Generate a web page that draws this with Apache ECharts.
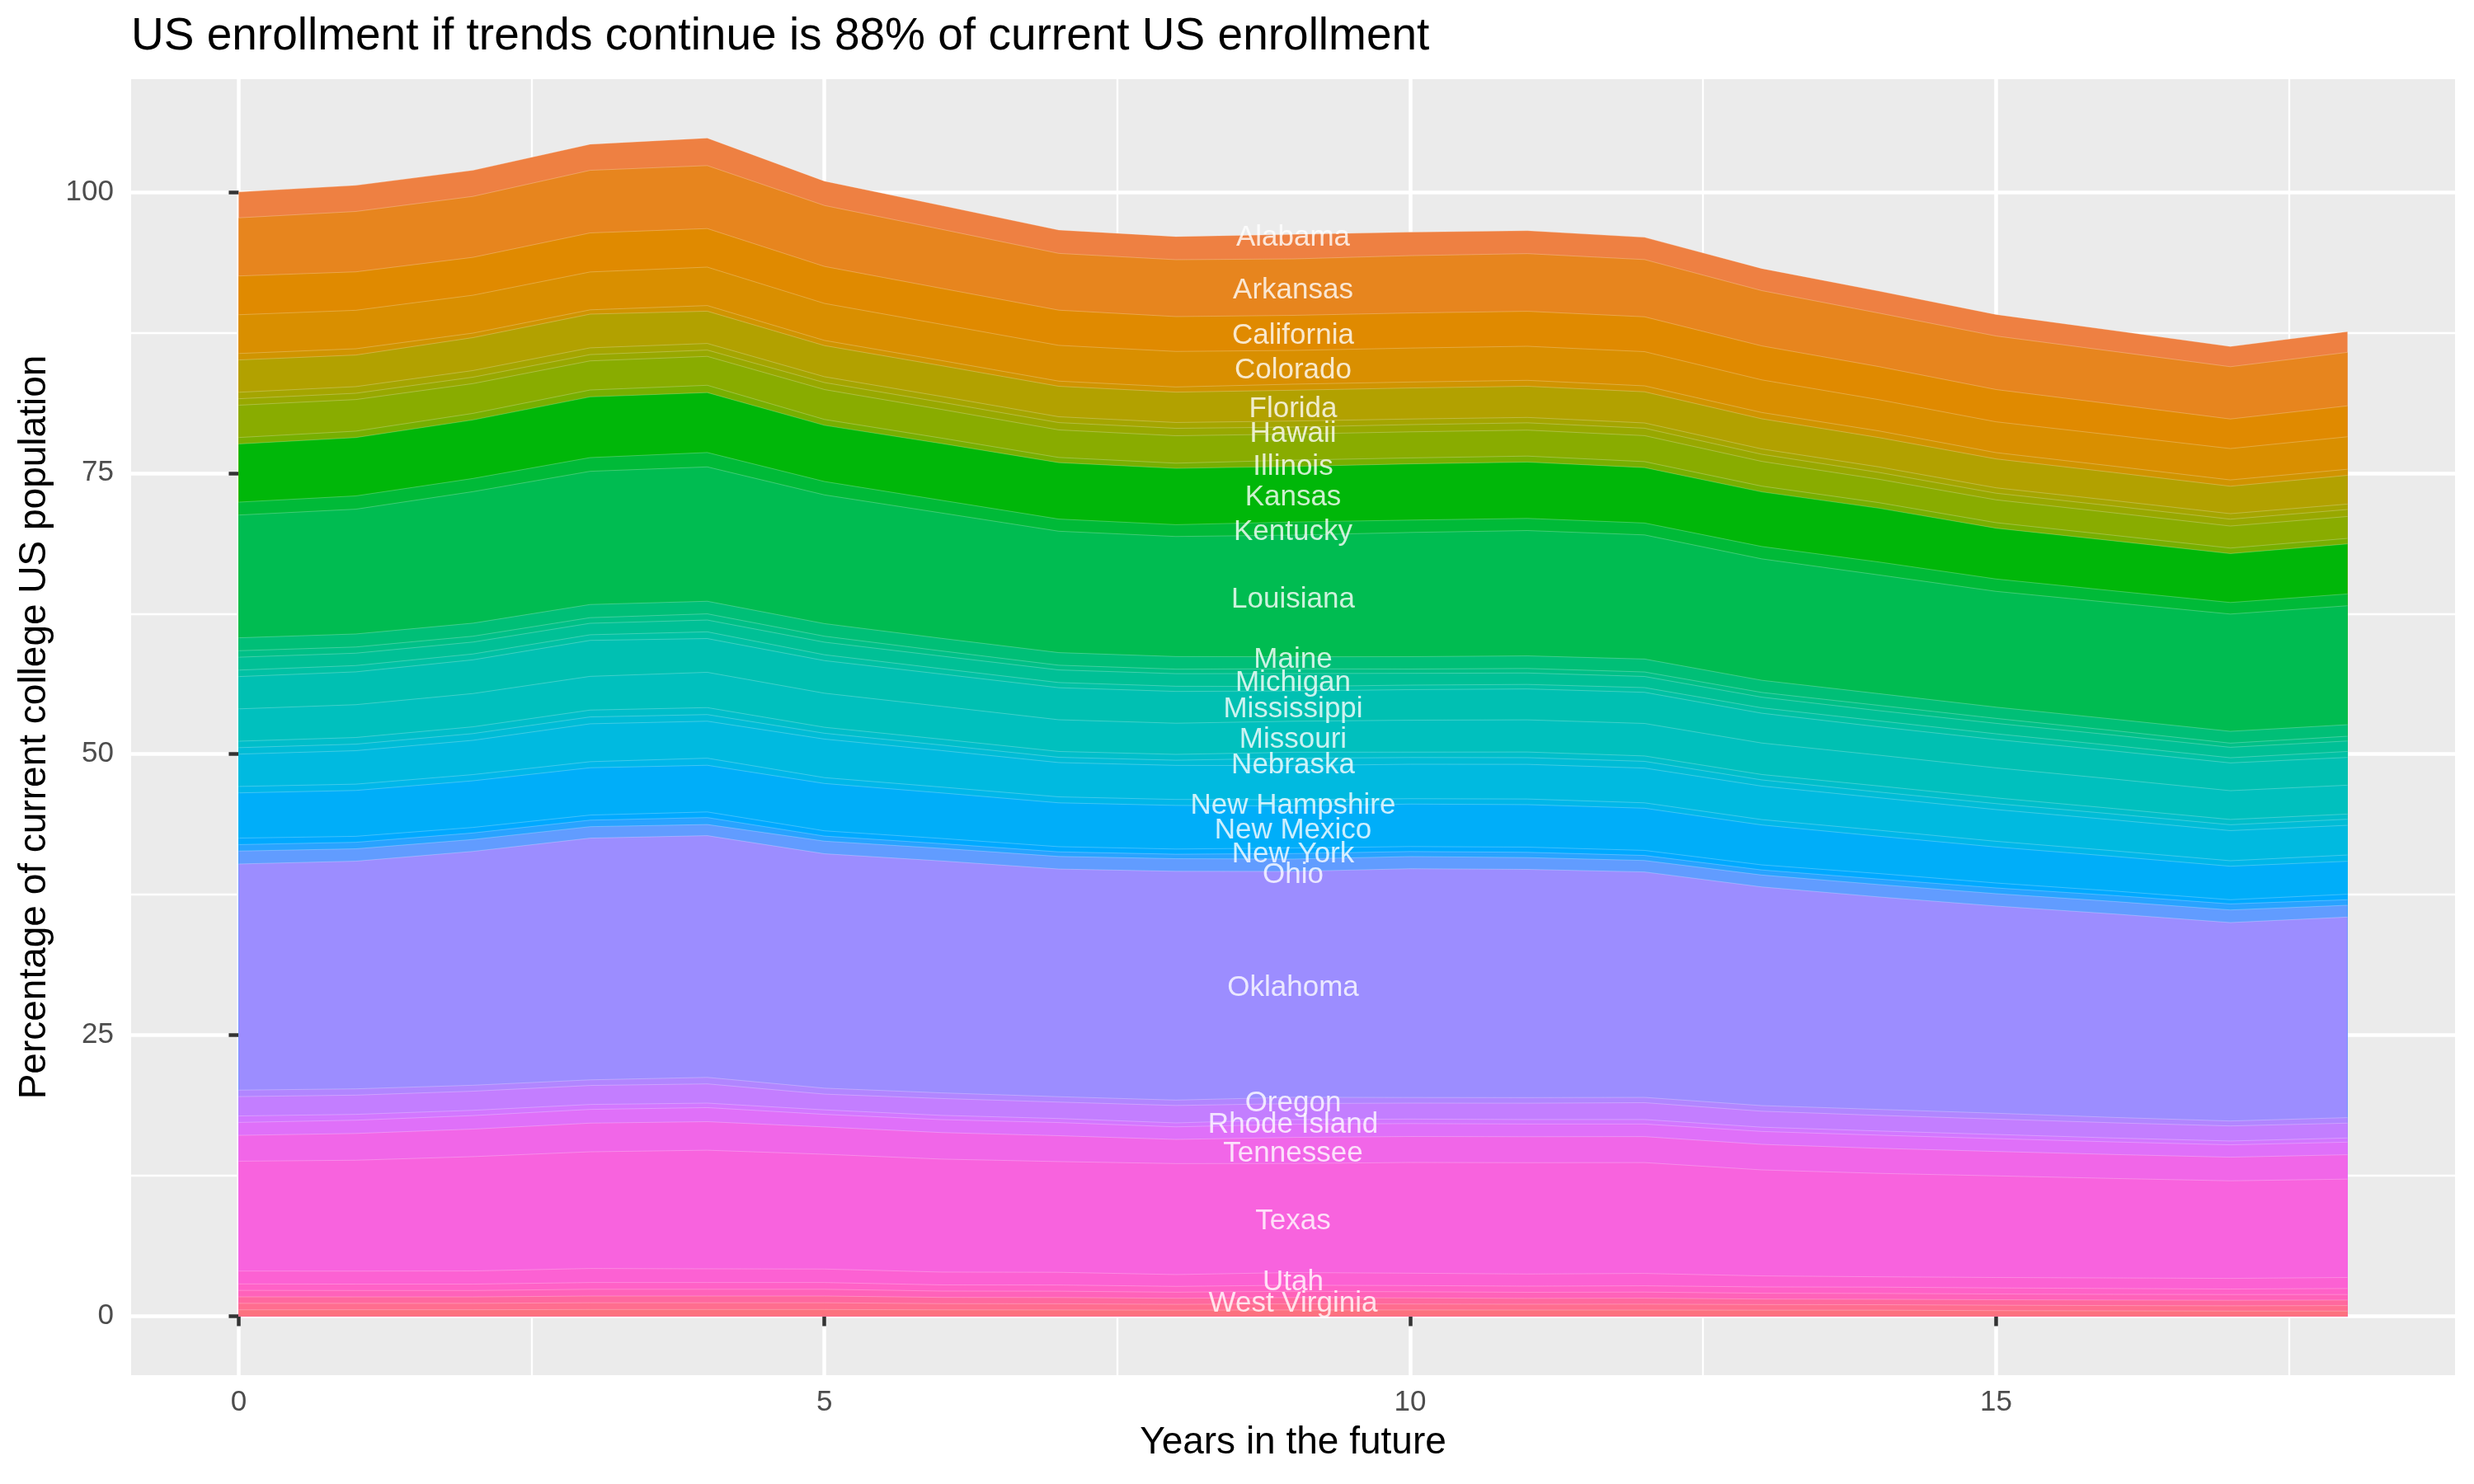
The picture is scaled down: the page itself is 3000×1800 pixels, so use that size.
<!DOCTYPE html>
<html>
<head>
<meta charset="utf-8">
<script src="https://cdn.jsdelivr.net/npm/echarts@6/dist/echarts.min.js"></script>
<style>
html,body{margin:0;padding:0;background:#ffffff;}
#chart{width:3000px;height:1800px;}
</style>
</head>
<body>
<div id="chart"></div>
<script>
// ---------------- DATA ----------------
const years = [0,1,2,3,4,5,6,7,8,9,10,11,12,13,14,15,16,17,18];
const xTicks = [0,5,10,15];
const yTicks = [0,25,50,75,100];
const chartTitle = 'US enrollment if trends continue is 88% of current US enrollment';
const xTitle = 'Years in the future';
const yTitle = 'Percentage of current college US population';

const alabama            = [0,0,0,0,0,0,0,0,0,0,0,0,0,0,0,0,0,0,0];
const alaska             = [0,0,0,0,0,0,0,0,0,0,0,0,0,0,0,0,0,0,0];
const arizona            = [2.299,2.32,2.32,2.32,2.45,2.17,2.12,2.08,2.06,2.18,2.09,2.04,1.98,1.97,1.96,1.92,1.86,1.80,1.84];
const arkansas           = [5.172,5.37,5.42,5.57,5.60,5.42,5.25,5.05,5.06,5.02,5.10,5.13,5.09,4.92,4.76,4.76,4.70,4.65,4.76];
const california         = [3.448,3.42,3.37,3.47,3.43,3.29,3.20,3.13,3.10,3.12,3.12,3.11,3.10,3.02,2.94,2.87,2.75,2.63,2.75];
const colorado           = [3.448,3.42,3.37,3.37,3.42,3.29,3.22,3.18,3.16,3.00,3.02,3.03,3.04,2.90,2.78,2.74,2.76,2.79,2.89];
const connecticut        = [0.575,0.56,0.40,0.38,0.50,0.46,0.46,0.46,0.46,0.54,0.53,0.53,0.53,0.56,0.59,0.56,0.56,0.56,0.54];
const delaware           = [0,0,0,0,0,0,0,0,0,0,0,0,0,0,0,0,0,0,0];
const districtOfColumbia = [0,0,0,0,0,0,0,0,0,0,0,0,0,0,0,0,0,0,0];
const florida            = [2.874,2.81,2.93,3.00,2.87,2.77,2.73,2.71,2.70,2.74,2.76,2.77,2.77,2.68,2.61,2.57,2.50,2.44,2.56];
const georgia            = [0.575,0.59,0.59,0.60,0.59,0.52,0.52,0.52,0.52,0.54,0.50,0.48,0.47,0.48,0.49,0.48,0.49,0.49,0.48];
const hawaii             = [0.575,0.56,0.57,0.56,0.56,0.62,0.64,0.65,0.66,0.62,0.64,0.65,0.66,0.63,0.61,0.59,0.60,0.61,0.62];
const idaho              = [2.874,2.81,2.65,2.59,2.57,2.66,2.55,2.45,2.44,2.32,2.32,2.31,2.31,2.20,2.08,2.03,2.00,1.96,1.95];
const illinois           = [0.575,0.57,0.58,0.61,0.65,0.52,0.48,0.46,0.46,0.56,0.53,0.53,0.53,0.51,0.49,0.49,0.49,0.49,0.49];
const indiana            = [0,0,0,0,0,0,0,0,0,0,0,0,0,0,0,0,0,0,0];
const iowa               = [0,0,0,0,0,0,0,0,0,0,0,0,0,0,0,0,0,0,0];
const kansas             = [5.172,5.19,5.21,5.40,5.33,5.00,5.05,5.02,5.01,4.94,5.00,5.01,4.93,4.86,4.79,4.52,4.45,4.35,4.45];
const kentucky           = [1.149,1.18,1.17,1.22,1.28,1.19,1.13,1.08,1.05,1.17,1.10,1.08,1.06,1.10,1.15,1.10,1.06,1.03,1.05];
const louisiana          = [10.920,11.10,11.70,11.85,11.95,11.45,11.15,10.80,10.68,10.82,11.05,11.15,11.04,10.80,10.56,10.30,10.35,10.43,10.58];
const maine              = [0,0,0,0,0,0,0,0,0,0,0,0,0,0,0,0,0,0,0];
const maryland           = [1.149,1.16,1.16,1.17,1.12,1.12,1.12,1.12,1.12,1.07,1.10,1.12,1.15,1.08,1.04,1.00,1.02,1.05,1.03];
const massachusetts      = [0.575,0.55,0.52,0.50,0.55,0.53,0.46,0.42,0.40,0.42,0.38,0.40,0.40,0.42,0.47,0.44,0.40,0.37,0.42];
const michigan           = [1.149,1.10,1.06,1.02,1.05,1.12,1.12,1.12,1.12,1.15,1.05,1.02,0.99,0.95,0.91,0.93,0.93,0.93,0.93];
const minnesota          = [0.575,0.56,0.52,0.50,0.60,0.52,0.48,0.46,0.46,0.40,0.40,0.40,0.42,0.48,0.53,0.51,0.48,0.46,0.53];
const mississippi        = [2.874,2.92,3.00,3.20,3.00,2.90,2.87,2.85,2.83,2.69,2.72,2.75,2.77,2.65,2.52,2.52,2.50,2.47,2.47];
const missouri           = [2.874,2.92,2.96,3.00,3.14,3.03,2.92,2.82,2.77,2.76,2.84,2.86,2.89,2.80,2.74,2.67,2.62,2.56,2.57];
const montana            = [0.575,0.59,0.60,0.61,0.62,0.53,0.52,0.52,0.52,0.54,0.48,0.50,0.48,0.48,0.54,0.51,0.49,0.47,0.46];
const nebraska           = [0.575,0.58,0.60,0.61,0.59,0.52,0.49,0.47,0.46,0.65,0.60,0.60,0.60,0.55,0.51,0.53,0.52,0.52,0.54];
const nevada             = [2.874,2.98,3.05,3.37,3.29,3.43,3.25,3.05,3.03,3.03,3.06,3.08,3.09,2.98,2.89,2.82,2.75,2.68,2.64];
const newHampshire       = [0.575,0.56,0.55,0.54,0.63,0.52,0.52,0.53,0.53,0.56,0.48,0.50,0.48,0.48,0.53,0.51,0.50,0.49,0.56];
const newJersey          = [0,0,0,0,0,0,0,0,0,0,0,0,0,0,0,0,0,0,0];
const newMexico          = [4.023,4.08,4.15,4.21,4.15,4.21,4.05,3.90,3.88,3.74,3.78,3.78,3.75,3.55,3.32,3.20,3.08,2.98,2.93];
const newYork            = [0.575,0.53,0.49,0.45,0.50,0.47,0.46,0.46,0.46,0.49,0.44,0.46,0.45,0.45,0.49,0.44,0.40,0.37,0.49];
const northCarolina      = [0.575,0.58,0.58,0.58,0.62,0.45,0.42,0.41,0.40,0.49,0.45,0.47,0.45,0.45,0.49,0.51,0.53,0.54,0.49];
const northDakota        = [1.149,1.10,1.06,1.02,0.99,1.12,1.12,1.12,1.12,1.10,1.08,1.05,1.02,1.06,1.10,1.10,1.11,1.12,1.05];
const ohio               = [0,0,0,0,0,0,0,0,0,0,0,0,0,0,0,0,0,0,0];
const oklahoma           = [20.115,20.25,20.80,21.50,21.50,20.85,20.63,20.25,20.35,20.09,20.35,20.30,20.05,19.45,18.90,18.43,18.10,17.65,17.84];
const oregon             = [0.575,0.56,0.53,0.50,0.58,0.53,0.50,0.48,0.48,0.56,0.50,0.50,0.47,0.50,0.53,0.52,0.48,0.44,0.49];
const pennsylvania       = [1.724,1.71,1.70,1.69,1.71,1.40,1.50,1.46,1.55,1.42,1.42,1.45,1.50,1.42,1.39,1.37,1.35,1.34,1.32];
const rhodeIsland        = [0.575,0.52,0.47,0.44,0.40,0.40,0.38,0.36,0.35,0.42,0.40,0.40,0.40,0.38,0.37,0.37,0.35,0.34,0.37];
const southCarolina      = [1.149,1.18,1.20,1.22,1.25,1.12,1.15,1.17,1.12,1.17,1.15,1.13,1.12,1.15,1.17,1.14,1.12,1.10,1.12];
const southDakota        = [0,0,0,0,0,0,0,0,0,0,0,0,0,0,0,0,0,0,0];
const tennessee          = [2.299,2.38,2.45,2.55,2.54,2.43,2.36,2.30,2.15,2.32,2.31,2.31,2.31,2.27,2.23,2.17,2.13,2.10,2.17];
const texas              = [9.770,9.86,10.17,10.38,10.55,10.21,10.05,9.85,9.87,9.70,9.85,9.90,9.86,9.43,9.20,9.04,8.85,8.68,8.75];
const utah               = [1.149,1.16,1.17,1.25,1.22,1.20,1.14,1.13,1.05,1.13,1.10,1.08,1.10,0.98,0.92,0.93,0.94,0.95,0.98];
const vermont            = [0.575,0.57,0.57,0.60,0.60,0.60,0.55,0.55,0.52,0.54,0.55,0.55,0.56,0.56,0.56,0.54,0.52,0.49,0.54];
const virginia           = [0.575,0.57,0.57,0.60,0.60,0.60,0.56,0.56,0.54,0.56,0.55,0.54,0.54,0.52,0.52,0.51,0.51,0.51,0.49];
const washington         = [0,0,0,0,0,0,0,0,0,0,0,0,0,0,0,0,0,0,0];
const westVirginia       = [0.575,0.57,0.57,0.60,0.60,0.60,0.56,0.56,0.54,0.56,0.54,0.52,0.53,0.49,0.48,0.49,0.49,0.49,0.49];
const wisconsin          = [0.575,0.57,0.57,0.60,0.60,0.60,0.55,0.55,0.52,0.54,0.53,0.52,0.53,0.50,0.49,0.48,0.47,0.47,0.49];
const wyoming            = [0.575,0.58,0.58,0.60,0.60,0.60,0.57,0.56,0.54,0.56,0.56,0.55,0.55,0.54,0.54,0.50,0.48,0.46,0.46];

const stateNames = ['Alabama','Alaska','Arizona','Arkansas','California','Colorado','Connecticut','Delaware',
  'District of Columbia','Florida','Georgia','Hawaii','Idaho','Illinois','Indiana','Iowa','Kansas','Kentucky',
  'Louisiana','Maine','Maryland','Massachusetts','Michigan','Minnesota','Mississippi','Missouri','Montana',
  'Nebraska','Nevada','New Hampshire','New Jersey','New Mexico','New York','North Carolina','North Dakota',
  'Ohio','Oklahoma','Oregon','Pennsylvania','Rhode Island','South Carolina','South Dakota','Tennessee','Texas',
  'Utah','Vermont','Virginia','Washington','West Virginia','Wisconsin','Wyoming'];
const stateValues = [alabama,alaska,arizona,arkansas,california,colorado,connecticut,delaware,
  districtOfColumbia,florida,georgia,hawaii,idaho,illinois,indiana,iowa,kansas,kentucky,
  louisiana,maine,maryland,massachusetts,michigan,minnesota,mississippi,missouri,montana,
  nebraska,nevada,newHampshire,newJersey,newMexico,newYork,northCarolina,northDakota,
  ohio,oklahoma,oregon,pennsylvania,rhodeIsland,southCarolina,southDakota,tennessee,texas,
  utah,vermont,virginia,washington,westVirginia,wisconsin,wyoming];
const labelledStates = ['Alabama','Arkansas','California','Colorado','Florida','Hawaii','Illinois','Kansas',
  'Kentucky','Louisiana','Maine','Michigan','Mississippi','Missouri','Nebraska','New Hampshire','New Mexico',
  'New York','Ohio','Oklahoma','Oregon','Rhode Island','Tennessee','Texas','Utah','West Virginia'];
const labelYear = 9;

// ---------------- COLOURS (ggplot2 default hue palette) ----------------
function hclHex(h, c, l) {
  const WX = 95.047, WY = 100.0, WZ = 108.883;
  const wu = 4 * WX / (WX + 15 * WY + 3 * WZ);
  const wv = 9 * WY / (WX + 15 * WY + 3 * WZ);
  const hr = h * Math.PI / 180;
  const U = c * Math.cos(hr), V = c * Math.sin(hr);
  const Y = WY * (l > 7.999592 ? Math.pow((l + 16) / 116, 3) : l / 903.3);
  const u = U / (13 * l) + wu;
  const v = V / (13 * l) + wv;
  const X = 9.0 * Y * u / (4 * v);
  const Z = -X / 3 - 5 * Y + 3 * Y / v;
  const g = t => t > 0.00304 ? 1.055 * Math.pow(t, 1 / 2.4) - 0.055 : 12.92 * t;
  const rgb = [
    g(( 3.240479 * X - 1.537150 * Y - 0.498535 * Z) / WY),
    g((-0.969256 * X + 1.875992 * Y + 0.041556 * Z) / WY),
    g(( 0.055648 * X - 0.204043 * Y + 1.057311 * Z) / WY)
  ];
  return '#' + rgb.map(x => {
    const n = Math.round(Math.max(0, Math.min(1, x)) * 255);
    return (n < 16 ? '0' : '') + n.toString(16);
  }).join('');
}
const nLevels = stateNames.length;
const palette = stateNames.map((_, i) => hclHex((15 + i * 360 / nLevels) % 360, 100, 65));

// ---------------- STACKING (ggplot: first level on top) ----------------
const stackTop = new Array(nLevels);
for (let i = nLevels - 1; i >= 0; i--) {
  stackTop[i] = years.map((_, k) => stateValues[i][k] + (i + 1 < nLevels ? stackTop[i + 1][k] : 0));
}

// ---------------- SERIES ----------------
const FONT = '"Liberation Sans", Arial, Helvetica, sans-serif';
const yearIdx = years.indexOf(labelYear);
const series = [];

// panel gridlines (under the areas)
const minorX = xTicks.slice(0, -1).map((t, i) => (t + xTicks[i + 1]) / 2)
  .concat([xTicks[xTicks.length - 1] + (xTicks[1] - xTicks[0]) / 2]);
const minorY = yTicks.slice(0, -1).map((t, i) => (t + yTicks[i + 1]) / 2);
const gridData = [];
minorX.forEach(v => gridData.push({xAxis: v, lineStyle: {color: '#ffffff', width: 2.3, type: 'solid'}}));
minorY.forEach(v => gridData.push({yAxis: v, lineStyle: {color: '#ffffff', width: 2.3, type: 'solid'}}));
xTicks.forEach(v => gridData.push({xAxis: v, lineStyle: {color: '#ffffff', width: 4.5, type: 'solid'}}));
yTicks.forEach(v => gridData.push({yAxis: v, lineStyle: {color: '#ffffff', width: 4.5, type: 'solid'}}));
series.push({
  type: 'line', data: [], silent: true, z: 0, animation: false,
  markLine: {silent: true, z: 0, symbol: ['none', 'none'], animation: false, label: {show: false}, data: gridData}
});

// areas: each drawn from 0 up to its cumulative top; lower bands painted later, on top
for (let i = 0; i < nLevels; i++) {
  if (stateValues[i].every(v => v === 0)) continue;
  series.push({
    name: stateNames[i],
    type: 'line',
    z: 2,
    symbol: 'none',
    showSymbol: false,
    silent: true,
    animation: false,
    data: years.map((x, k) => [x, stackTop[i][k]]),
    lineStyle: {width: 1, color: 'rgba(255,255,255,0.25)'},
    areaStyle: {color: palette[i], opacity: 1, origin: 0},
    itemStyle: {color: palette[i]}
  });
}

// labels at band middles for the chosen year
const labelData = labelledStates.map(name => {
  const idx = stateNames.indexOf(name);
  const top = stackTop[idx][yearIdx];
  const mid = top - stateValues[idx][yearIdx] / 2;
  return {name: name, value: [labelYear, mid]};
});
series.push({
  type: 'scatter', z: 10, symbolSize: 0, animation: false, silent: true,
  data: labelData,
  label: {show: true, position: 'inside', formatter: '{b}', color: '#ffffff', fontSize: 35,
          fontFamily: FONT, offset: [0, 4]}
});

const chart = echarts.init(document.getElementById('chart'), null, {renderer: 'canvas'});
chart.setOption({
  backgroundColor: '#ffffff',
  animation: false,
  title: {
    text: chartTitle, left: 159, top: 17, padding: 0,
    textStyle: {fontSize: 55, fontWeight: 'normal', color: '#000000', fontFamily: FONT}
  },
  grid: {left: 159, right: 23, top: 96, bottom: 132, show: true, backgroundColor: '#EBEBEB', borderWidth: 0},
  xAxis: {
    type: 'value', min: -0.918, max: 18.918,
    name: xTitle, nameLocation: 'middle', nameGap: 59,
    nameTextStyle: {fontSize: 46, color: '#000000', fontFamily: FONT},
    axisLine: {show: false},
    axisTick: {show: true, customValues: xTicks, length: 12, lineStyle: {color: '#333333', width: 4.5}},
    axisLabel: {show: true, customValues: xTicks, fontSize: 35, color: '#4D4D4D', margin: 16, fontFamily: FONT},
    splitLine: {show: false}
  },
  yAxis: {
    type: 'value', min: -5.24, max: 110.04,
    name: yTitle, nameLocation: 'middle', nameGap: 94,
    nameTextStyle: {fontSize: 46, color: '#000000', fontFamily: FONT},
    axisLine: {show: false},
    axisTick: {show: true, customValues: yTicks, length: 12, lineStyle: {color: '#333333', width: 4.5}},
    axisLabel: {show: true, customValues: yTicks, fontSize: 35, color: '#4D4D4D', margin: 21, fontFamily: FONT},
    splitLine: {show: false}
  },
  series: series
});
</script>
</body>
</html>
